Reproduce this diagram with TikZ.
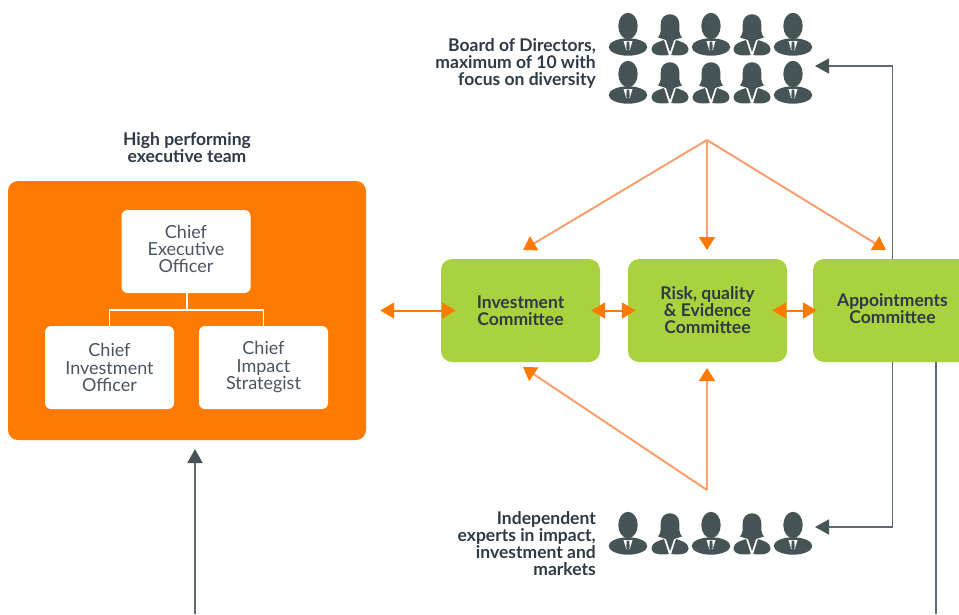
\documentclass[tikz,border=0pt]{standalone}
\usepackage{fontspec}
\setmainfont{Lato}
\usetikzlibrary{arrows.meta}
\definecolor{slate}{HTML}{475456}
\definecolor{wire}{HTML}{5C6B72}
\definecolor{orng}{HTML}{FF7A00}
\definecolor{orngline}{HTML}{F9A070}
\definecolor{grn}{HTML}{AAD23E}
\definecolor{ink}{HTML}{2E3A46}
\definecolor{softink}{HTML}{4A5560}
\tikzset{
  x=1pt,y=-1pt,
  exec/.style={fill=orng,rounded corners=10pt,minimum width=358pt,minimum height=259pt,inner sep=0pt},
  whitebox/.style={fill=white,rounded corners=6pt,minimum width=129pt,minimum height=83pt,inner sep=0pt,align=center,text=softink,font=\fontsize{18}{17.5}\selectfont},
  greenbox/.style={fill=grn,rounded corners=11pt,minimum width=159pt,minimum height=103pt,inner sep=0pt,align=center,text=ink,font=\bfseries\fontsize{17.5}{17}\selectfont},
  lbl/.style={inner sep=0pt,text=ink,font=\bfseries\fontsize{17.5}{17}\selectfont},
  twoway/.style={draw=orng,line width=2pt,{Triangle[length=14pt,width=16pt]}-{Triangle[length=14pt,width=16pt]}},
  oneway/.style={draw=orngline,line width=2pt,-{Triangle[length=13pt,width=16pt,color=orng]}},
  wirearrow/.style={draw=wire,line width=1.6pt,-{Triangle[length=14pt,width=15pt,color=slate]}},
  wireline/.style={draw=wire,line width=1.6pt},
  whiteline/.style={draw=white,line width=1.5pt},
  man/.pic={
    \fill[slate] (0,13) ellipse [x radius=9.7,y radius=13.2];
    \fill[slate] (0,34) ellipse [x radius=19.3,y radius=8.7];
    \fill[white] (-4.5,28) -- (4.5,28) -- (1.8,37) -- (-1.8,37) -- cycle;
    \fill[slate] (-1.4,28.5) -- (1.4,28.5) -- (1.6,36) -- (0,38) -- (-1.6,36) -- cycle;
  },
  woman/.pic={
    \fill[slate] (-9.3,11) .. controls (-9.3,-2) and (9.3,-2) .. (9.3,11) -- (9.3,18) .. controls (9.3,21) and (11,23) .. (12,24.5) -- (4,27) -- (0,39) -- (-4,27) -- (-12,24.5) .. controls (-11,23) and (-9.3,21) .. (-9.3,18) -- cycle;
    \fill[slate] (-18.5,36) .. controls (-18,30) and (-11,29) .. (-6,27) -- (-1.2,42) .. controls (-8,43) and (-18.5,43) .. (-18.5,36) -- cycle;
    \fill[slate] (18.5,36) .. controls (18,30) and (11,29) .. (6,27) -- (1.2,42) .. controls (8,43) and (18.5,43) .. (18.5,36) -- cycle;
  },
}
\begin{document}
\begin{tikzpicture}
\useasboundingbox (0,0) rectangle (959,614);
\clip (0,0) rectangle (959,614);

% executive block
\node[exec] (team) at (187,310.5) {};
\node[whitebox] (ceo) at (186,251.5) {Chief\\[-0.5pt]Executive\\[-0.5pt]Officer\rule[-6pt]{0pt}{6pt}};
\node[whitebox] (cio) at (109.5,367.5) {Chief\\Investment\\Officer};
\node[whitebox] (cis) at (263.5,367.5) {Chief\\Impact\\Strategist};
\coordinate (bus) at (187,310);
\draw[whiteline] (ceo.south -| bus) -- (bus);
\draw[whiteline] (cio.north) |- (bus);
\draw[whiteline] (cis.north) |- (bus);

% wires
\coordinate (boardin) at (815,66);
\coordinate (expertin) at (815,527);
\coordinate (bottomA) at (936,614);
\coordinate (bottomB) at (195,614);
\coordinate (teamin) at (195,449);

% committees
\node[greenbox] (inv) at (520.5,310.5) {Investment\\Committee};
\node[greenbox] (risk) at (707.5,310.5) {Risk, quality\\\& Evidence\\Committee};
\node[greenbox] (app) at (892.5,310.5) {Appointments\\Committee\rule[-4pt]{0pt}{4pt}};

\draw[wirearrow] (app.north) |- (boardin);
\draw[wirearrow] (app.south) |- (expertin);
\draw[wireline] (app.south -| bottomA) -- (bottomA);
\draw[wirearrow] (bottomB) -- (teamin);

% orange connectors
\coordinate (apexT) at (707,140);
\coordinate (apexB) at (707,490);
\coordinate (t1) at (523,250);
\coordinate (t2) at (707,250);
\coordinate (t3) at (886,250);
\coordinate (b1) at (523,367);
\coordinate (b2) at (707,368);
\draw[oneway] (apexT) -- (t1);
\draw[oneway] (apexT) -- (t2);
\draw[oneway] (apexT) -- (t3);
\draw[oneway] (apexB) -- (b1);
\draw[oneway] (apexB) -- (b2);
\draw[twoway,shorten <=14pt,shorten >=-15pt] (team.east) -- (inv.west);
\draw[twoway,shorten <=-9pt,shorten >=-8pt] (inv.east) -- (risk.west);
\draw[twoway,shorten <=-15pt,shorten >=-4pt] (risk.east) -- (app.west);

% labels
\node[lbl,align=center] (hp) at (187,148) {High performing\\executive team};
\node[lbl,align=right,anchor=east] (board) at (596,63.5) {Board of Directors,\\maximum of 10 with\\focus on diversity};
\node[lbl,align=right,anchor=east] (experts) at (596,544) {Independent\\experts in impact,\\investment and\\markets};

% people
\pic at (628,13) {man};
\pic at (670,13) {woman};
\pic at (711,13) {man};
\pic at (752,13) {woman};
\pic at (793,13) {man};
\pic at (628,61) {man};
\pic at (670,61) {woman};
\pic at (711,61) {woman};
\pic at (752,61) {woman};
\pic at (793,61) {man};
\pic at (628,512) {man};
\pic at (670,512) {woman};
\pic at (711,512) {man};
\pic at (752,512) {woman};
\pic at (793,512) {man};
\end{tikzpicture}
\end{document}
